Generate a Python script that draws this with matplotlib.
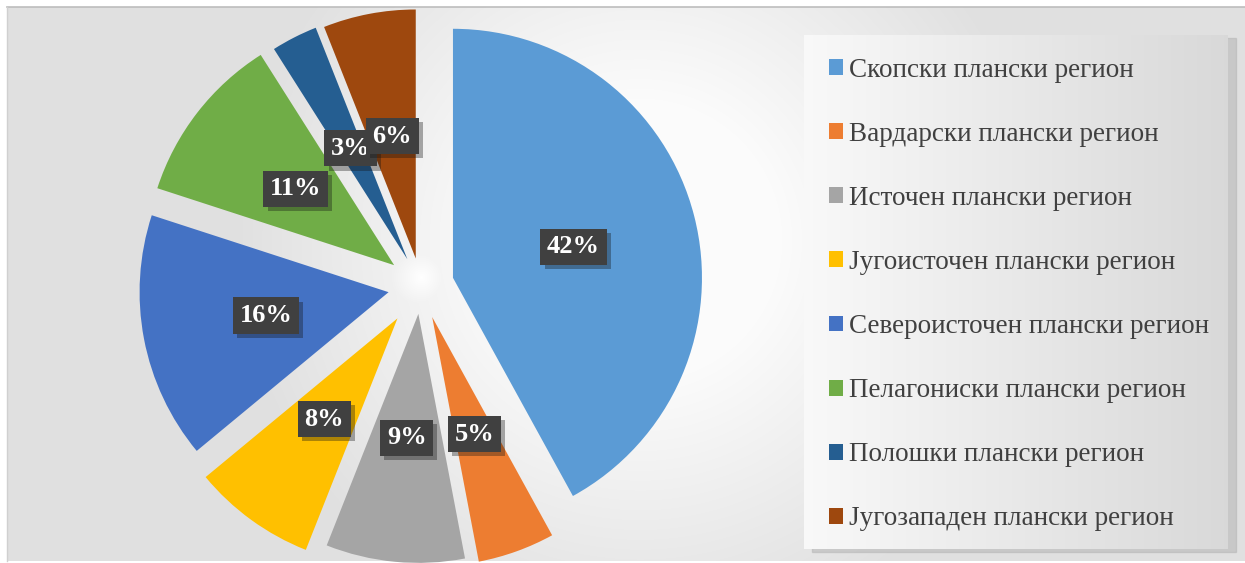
import numpy as np
import matplotlib
matplotlib.use('Agg')
import matplotlib.pyplot as plt
from matplotlib.patches import Rectangle
import matplotlib.patheffects as pe

regions = ['Скопски плански регион', 'Вардарски плански регион', 'Источен плански регион',
           'Југоисточен плански регион', 'Североисточен плански регион',
           'Пелагониски плански регион', 'Полошки плански регион', 'Југозападен плански регион']
shares = [42, 5, 9, 8, 16, 11, 3, 6]
colors = ['#5B9BD5', '#ED7D31', '#A5A5A5', '#FFC000', '#4472C4', '#70AD47', '#255E91', '#9E480E']
explode = [33, 33, 28, 40, 33, 34, 30, 28]  # pixels

W, H = 1245, 563
fig = plt.figure(figsize=(W / 100, H / 100), dpi=100)
ax = fig.add_axes([0, 0, 1, 1])

# background: radial grey gradient with a white glow round the pie centre
yy, xx = np.mgrid[H:0:-1, 0:W]
r = np.hypot(xx - 640, (H - yy) - 240)
g = 0.985 - 0.215 * np.clip((r - 140) / 540, 0, 1)
r2 = np.hypot(xx - 421, (H - yy) - (H - 286))
g = np.maximum(g, 1 - 0.12 * np.clip(r2 / 60, 0, 1))
bg = np.dstack([g, g, g])
bg[:7, :] = 1
bg[:, :7] = 1
bg[H - 2:, :] = 1
ax.imshow(bg, extent=(0, W, 0, H), zorder=0, aspect='auto')
ax.plot([7, W], [H - 7, H - 7], color='#bdbdbd', lw=1.2, zorder=1)
ax.plot([7, 7], [2, H - 7], color='#d0d0d0', lw=1, zorder=1)

# legend panel with horizontal gradient
lx0, lx1, ly0, ly1 = 804, 1228, H - 549, H - 35
ax.add_patch(Rectangle((lx0 + 8, ly0 - 3), lx1 - lx0, ly1 - ly0, color='#b8b8b8', alpha=0.6, zorder=1))
grad = np.linspace(0.975, 0.85, 200)
ax.imshow(np.dstack([grad, grad, grad]).repeat(2, axis=0),
          extent=(lx0, lx1, ly0, ly1), zorder=2, aspect='auto')

wedges, texts, autotexts = ax.pie(
    shares, colors=colors, startangle=90, counterclock=False,
    explode=explode, radius=249, center=(421, H - 286),
    autopct='%1.0f%%', pctdistance=0.5, frame=True,
    wedgeprops=dict(linewidth=0, zorder=3),
    textprops=dict(color='white', fontsize=19, fontweight='bold', family='Liberation Serif', zorder=5))
for t in autotexts:
    t.set_bbox(dict(boxstyle='square,pad=0.25', facecolor='#404040', edgecolor='none'))
    t.get_bbox_patch().set_path_effects([pe.SimplePatchShadow(offset=(3, -3), alpha=0.35), pe.Normal()])
ax.set_xlim(0, W)
ax.set_ylim(0, H)
ax.set_aspect('auto')
ax.axis('off')

leg = ax.legend(wedges, regions, loc='upper left', bbox_to_anchor=(815, H - 44),
                bbox_transform=ax.transData, frameon=False,
                prop=dict(family='Liberation Serif', size=19.5),
                handlelength=0.52, handleheight=0.52, handletextpad=0.22,
                labelspacing=1.445, borderpad=0)
for t in leg.get_texts():
    t.set_color('#404040')
leg.set_zorder(6)

fig.savefig('out.png', dpi=100)
